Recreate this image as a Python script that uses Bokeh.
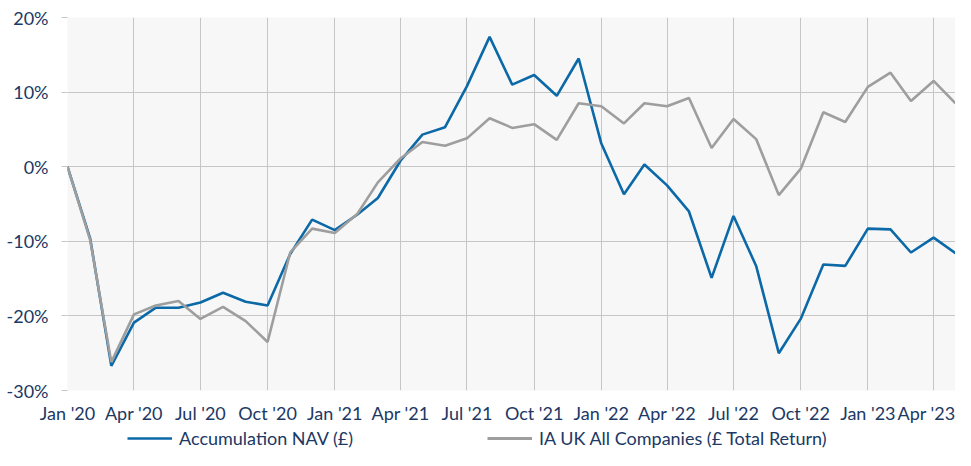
import pandas as pd
from bokeh.plotting import figure
from bokeh.layouts import column
from bokeh.models import (FixedTicker, DatetimeTickFormatter, PrintfTickFormatter,
                          Legend, LegendItem, ColumnDataSource, Range1d)
from bokeh.embed import file_html
from bokeh.resources import INLINE

months = [
    "2020-01", "2020-02", "2020-03", "2020-04", "2020-05", "2020-06",
    "2020-07", "2020-08", "2020-09", "2020-10", "2020-11", "2020-12",
    "2021-01", "2021-02", "2021-03", "2021-04", "2021-05", "2021-06",
    "2021-07", "2021-08", "2021-09", "2021-10", "2021-11", "2021-12",
    "2022-01", "2022-02", "2022-03", "2022-04", "2022-05", "2022-06",
    "2022-07", "2022-08", "2022-09", "2022-10", "2022-11", "2022-12",
    "2023-01", "2023-02", "2023-03", "2023-04", "2023-05",
]
nav = [0, -9.6, -26.7, -20.9, -18.9, -18.9, -18.2, -16.9, -18.1, -18.6, -11.7, -7.1,
       -8.5, -6.4, -4.2, 0.8, 4.3, 5.3, 10.8, 17.4, 11.0, 12.3, 9.5, 14.5,
       3.1, -3.7, 0.3, -2.5, -6.0, -14.9, -6.6, -13.3, -25.0, -20.4, -13.1, -13.3,
       -8.3, -8.4, -11.5, -9.5, -11.6]
sector = [0, -9.8, -26.2, -19.8, -18.6, -18.0, -20.4, -18.8, -20.7, -23.5, -11.5, -8.3,
          -8.9, -6.3, -2.1, 1.1, 3.3, 2.8, 3.8, 6.5, 5.2, 5.7, 3.6, 8.5,
          8.1, 5.8, 8.5, 8.1, 9.2, 2.5, 6.4, 3.7, -3.8, -0.3, 7.3, 6.0,
          10.7, 12.6, 8.8, 11.5, 8.5]
tick_months = ["2020-01", "2020-04", "2020-07", "2020-10", "2021-01", "2021-04",
               "2021-07", "2021-10", "2022-01", "2022-04", "2022-07", "2022-10",
               "2023-01", "2023-04"]
y_ticks = [-30, -20, -10, 0, 10, 20]
series_names = ["Accumulation NAV (£)", "IA UK All Companies (£ Total Return)"]

BLUE = "#0B69A8"
GREY = "#9E9E9E"
TEXT = "#203864"
GRID = "#C6C6C6"
FONT = "Lato"

dates = pd.to_datetime(months)
src = ColumnDataSource(dict(date=list(dates), nav=nav, sector=sector))
tick_ms = [float(pd.Timestamp(m).value // 10**6) for m in tick_months]

p = figure(width=955, height=426, x_axis_type="datetime", output_backend="svg",
           toolbar_location=None,
           x_range=Range1d(dates[0], dates[-1]), y_range=Range1d(-30, 20),
           min_border_left=67, min_border_top=17, min_border_right=0, min_border_bottom=32,
           background_fill_color="#F7F7F7", border_fill_color="white",
           outline_line_color=None)

r1 = p.line("date", "nav", source=src, line_color=BLUE, line_width=2.6)
r2 = p.line("date", "sector", source=src, line_color=GREY, line_width=2.6)

xt = FixedTicker(ticks=tick_ms)
p.xaxis.ticker = xt
p.xgrid.ticker = xt
fmt = "%b '%y"
p.xaxis.formatter = DatetimeTickFormatter(milliseconds=fmt, seconds=fmt, minsec=fmt,
                                          minutes=fmt, hourmin=fmt, hours=fmt, days=fmt,
                                          months=fmt, years=fmt)
yt = FixedTicker(ticks=y_ticks)
p.yaxis.ticker = yt
p.ygrid.ticker = yt
p.yaxis.formatter = PrintfTickFormatter(format="%d%%")

for g in (p.xgrid, p.ygrid):
    g.grid_line_color = GRID
    g.grid_line_width = 1

for ax in (p.xaxis, p.yaxis):
    ax.axis_line_color = None
    ax.minor_tick_line_color = None
    ax.major_label_text_font = FONT
    ax.major_label_text_font_size = "18px"
    ax.major_label_text_color = TEXT

p.xaxis.major_tick_line_color = None
p.xaxis.major_tick_out = 0
p.xaxis.major_tick_in = 0
p.xaxis.major_label_standoff = 11
p.yaxis.major_tick_line_color = GRID
p.yaxis.major_tick_out = 6
p.yaxis.major_tick_in = 0
p.yaxis.major_label_standoff = 13

# legend strip below the chart (its frame is aligned with the chart frame)
q = figure(width=955, height=24, output_backend="svg", toolbar_location=None,
           x_range=Range1d(0, 1), y_range=Range1d(0, 1),
           x_axis_location=None, y_axis_location=None,
           min_border=0, outline_line_color=None)
q.grid.visible = False
l1 = q.line(x=[-2, -1], y=[-2, -1], line_color=BLUE, line_width=2.6)
l2 = q.line(x=[-2, -1], y=[-2, -1], line_color=GREY, line_width=3)
legend = Legend(items=[LegendItem(label=series_names[0], renderers=[l1]),
                       LegendItem(label=series_names[1], renderers=[l2])],
                orientation="horizontal", location=(60, 1),
                glyph_width=45, glyph_height=20, label_standoff=7, spacing=134,
                label_text_font=FONT, label_text_font_size="18px", label_text_color=TEXT,
                border_line_color=None, background_fill_alpha=0, padding=0, margin=0)
q.add_layout(legend, "center")

layout = column(p, q, spacing=0)
open("out.html", "w").write(file_html(layout, INLINE))
